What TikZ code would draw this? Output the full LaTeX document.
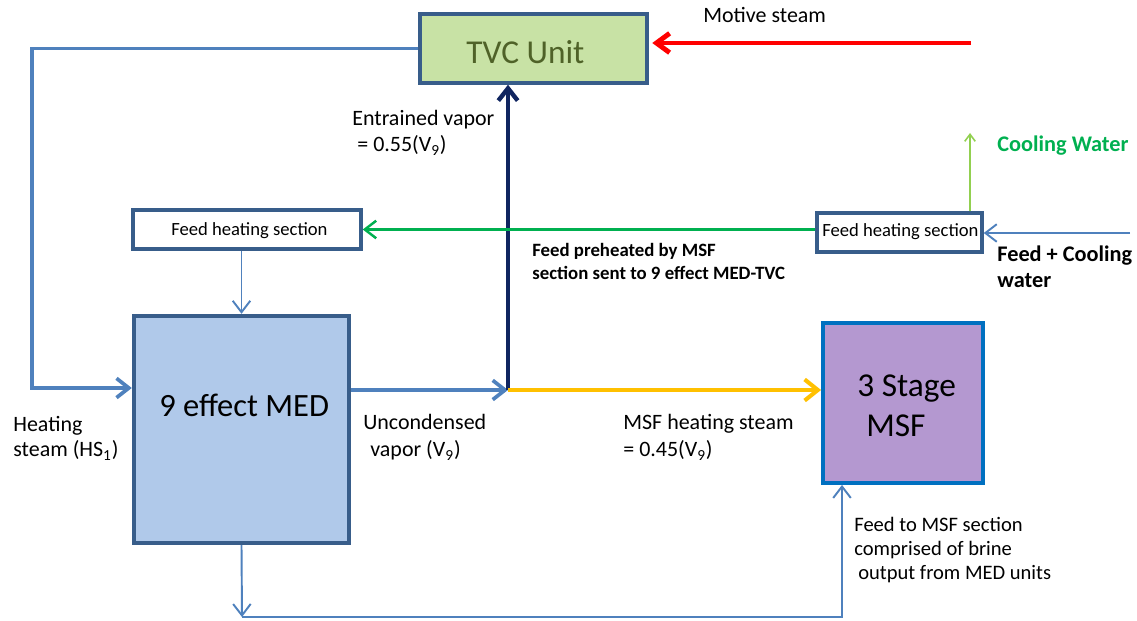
\documentclass[tikz,border=0pt]{standalone}
\usepackage{fontspec}
\setmainfont{Carlito}
\usetikzlibrary{arrows.meta,fit}

\definecolor{boxedge}{RGB}{56,93,138}
\definecolor{flowblue}{RGB}{79,129,189}
\definecolor{navyflow}{RGB}{16,37,96}
\definecolor{tvcfill}{RGB}{200,226,165}
\definecolor{tvctext}{RGB}{79,98,40}
\definecolor{medfill}{RGB}{176,201,234}
\definecolor{msffill}{RGB}{180,152,208}
\definecolor{msfedge}{RGB}{0,112,192}
\definecolor{feedgreen}{RGB}{0,176,80}
\definecolor{coolgreen}{RGB}{146,208,80}
\definecolor{msfsteam}{RGB}{255,192,0}

\begin{document}
\begin{tikzpicture}[x=0.02cm,y=-0.02cm,
  unitbox/.style={draw=boxedge, line width=2pt, inner sep=0pt},
  flow/.style={draw=flowblue, line width=2.1pt, -{Straight Barb[length=7pt,width=11pt]}},
  thinflow/.style={draw=flowblue, line width=1.1pt, -{Straight Barb[length=6.5pt,width=10pt]}},
  lbl/.style={anchor=base west, inner sep=0pt, font=\fontsize{12.5}{15}\selectfont},
  smalllbl/.style={anchor=base west, inner sep=0pt, font=\fontsize{11.7}{14}\selectfont},
  boldlbl/.style={anchor=base west, inner sep=0pt, font=\fontsize{12.7}{15}\selectfont\bfseries},
  notelbl/.style={anchor=base west, inner sep=0pt, font=\fontsize{10.7}{13}\selectfont\bfseries},
  bigtxt/.style={anchor=base west, inner sep=0pt, font=\fontsize{19}{23}\selectfont},
  feedtxt/.style={anchor=base west, inner sep=0pt, font=\fontsize{10.6}{13}\selectfont}]
\useasboundingbox (0,0) rectangle (1137,621);

% process units
\node[unitbox, fill=tvcfill, fit={(420,14) (647,83)}] (tvc) {};
\node[bigtxt, text=tvctext] (tvclabel) at (466,64) {TVC Unit};
\node[unitbox, fill=white, fit={(133,210) (361,249)}] (feedL) {};
\node[feedtxt] (feedLlabel) at (171,236) {Feed heating section};
\node[unitbox, fill=white, fit={(817,213) (982,252)}] (feedR) {};
\node[feedtxt] (feedRlabel) at (822,237) {Feed heating section};
\node[unitbox, line width=2.5pt, fill=medfill, fit={(134,316) (349,543)}] (med) {};
\node[bigtxt, font=\fontsize{18.5}{22}\selectfont] (medlabel) at (159,417) {9 effect MED};
\node[unitbox, draw=msfedge, line width=2.2pt, fill=msffill, fit={(823,323) (983,483)}] (msf) {};
\node[bigtxt] (msflabelA) at (857,397) {3 Stage};
\node[bigtxt] (msflabelB) at (866,437) {MSF};

% turning points of the streams
\coordinate (hsTurn) at (32,388);
\coordinate (junction) at (508,390);
\coordinate (motive) at (971,43);
\coordinate (cwTop) at (970,133);
\coordinate (feedIn) at (1130,233);
\coordinate (brine) at (242,617);
\coordinate (brineEnd) at (842,617);

% heating steam from the TVC back to the first effect
\draw[flow] (tvc.west) -| (hsTurn) -- (hsTurn -| med.west);
% uncondensed vapour leaving the last effect
\draw[flow] (junction -| med.east) -- (junction);
% entrained vapour to the TVC
\draw[draw=navyflow, line width=2.5pt, -{Straight Barb[length=7pt,width=11pt]}] (junction) -- (junction |- tvc.south);
% MSF heating steam
\draw[draw=msfsteam, line width=2.3pt, -{Straight Barb[length=7.5pt,width=12pt]}] (junction) -- (junction -| msf.west);
% motive steam
\draw[draw=red, line width=2.8pt, -{Straight Barb[length=7.5pt,width=11pt]}, shorten >=2pt] (motive) -- (motive -| tvc.east);
% preheated feed between the feed heaters
\draw[draw=feedgreen, line width=1.4pt, -{Straight Barb[length=6.5pt,width=10pt]}] (feedL.east -| feedR.west) -- (feedL.east);
% cooling water out
\draw[draw=coolgreen, line width=0.9pt, -{Straight Barb[length=4pt,width=6pt]}] (cwTop |- feedR.north) -- (cwTop);
% feed and cooling water in
\draw[thinflow] (feedIn) -- (feedIn -| feedR.east);
% feed to the MED unit
\draw[thinflow] (med.north |- feedL.south) -- (med.north);
% brine from the MED unit to the MSF section
\draw[thinflow] (med.south) -- (brine);
\draw[thinflow] (brine) -- (brineEnd) -- (brineEnd |- msf.south);

% stream labels
\node[lbl] (motivelbl) at (703,23) {Motive steam};
\node[lbl] (entrA) at (352,126) {Entrained vapor};
\node[lbl] (entrB) at (357,152) {= 0.55(V\textsubscript{9})};
\node[boldlbl, text=feedgreen] (cwlbl) at (997,152) {Cooling Water};
\node[boldlbl] (feedinA) at (997,262) {Feed + Cooling};
\node[boldlbl] (feedinB) at (997,288) {water};
\node[notelbl] (noteA) at (532,257) {Feed preheated by MSF};
\node[notelbl] (noteB) at (532,280) {section sent to 9 effect MED-TVC};
\node[lbl] (hsA) at (13,432) {Heating};
\node[lbl] (hsB) at (13,457) {steam (HS\textsubscript{1})};
\node[lbl] (uncA) at (363,430) {Uncondensed};
\node[lbl] (uncB) at (370,457) {vapor (V\textsubscript{9})};
\node[lbl] (msfsA) at (623,430) {MSF heating steam};
\node[lbl] (msfsB) at (623,457) {= 0.45(V\textsubscript{9})};
\node[smalllbl] (brineA) at (854,532) {Feed to MSF section};
\node[smalllbl] (brineB) at (854,556) {comprised of brine};
\node[smalllbl] (brineC) at (858,580) {output from MED units};
\end{tikzpicture}
\end{document}
